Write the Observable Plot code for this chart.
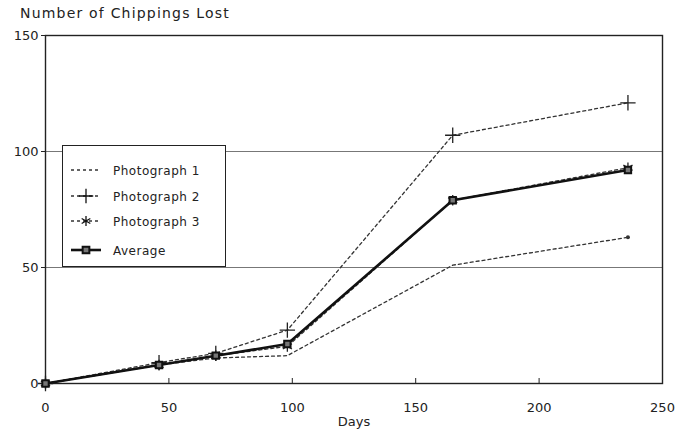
<!DOCTYPE html>
<html>
<head>
<meta charset="utf-8">
<script src="https://cdn.jsdelivr.net/npm/d3@7"></script>
<script src="https://cdn.jsdelivr.net/npm/@observablehq/plot@0.6"></script>
<style>
  body { margin: 0; background: #fff; }
  #wrap { position: relative; width: 684px; height: 439px; font-family: "DejaVu Sans", sans-serif; color: #222; }
  #title { position: absolute; left: 20px; top: 5px; font-size: 14px; letter-spacing: 1.2px; }
  #legend { position: absolute; left: 62px; top: 145px; width: 164px; height: 122px; border: 1.5px solid #222; background: #fff; box-sizing: border-box; }
  #legend svg { position: absolute; left: 0; top: 0; }
</style>
</head>
<body>
<div id="wrap">
  <div id="chart"></div>
  <div id="title">Number of Chippings Lost</div>
  <div id="legend"></div>
</div>
<script>
const days = [0, 46, 69, 98, 165, 236];
const photo1 = [0, 8, 11, 12, 51, 63];
const photo2 = [0, 9, 13, 23, 107, 121];
const photo3 = [0, 8, 12, 16, 79, 93];
const average = [0, 8, 12, 17, 79, 92];
const xTicks = [0, 50, 100, 150, 200, 250];
const yTicks = [0, 50, 100, 150];
const gridY = [50, 100];
const seriesNames = ["Photograph 1", "Photograph 2", "Photograph 3", "Average"];

const rows = (vals) => days.map((d, i) => ({ x: d, y: vals[i] }));
const p1 = rows(photo1), p2 = rows(photo2), p3 = rows(photo3), av = rows(average);

const ink = "#222";
const chart = Plot.plot({
  width: 684,
  height: 439,
  marginLeft: 45,
  marginRight: 22,
  marginTop: 35,
  marginBottom: 56,
  style: { fontFamily: "DejaVu Sans, sans-serif", fontSize: "13px", color: ink, background: "white" },
  x: { domain: [0, 250], ticks: xTicks, label: null },
  y: { domain: [0, 150], ticks: yTicks, label: null },
  marks: [
    Plot.ruleY(gridY, { stroke: "#777", strokeWidth: 1.2 }),
    Plot.frame({ stroke: ink, strokeWidth: 1.4 }),
    Plot.axisX({ ticks: xTicks, tickSize: -5, tickPadding: 24, stroke: ink, fill: ink }),
    Plot.axisY({ ticks: yTicks, tickSize: 4, tickPadding: 3, stroke: ink, fill: ink }),
    Plot.text(["Days"], { frameAnchor: "bottom", dy: 42, fill: ink, fontSize: 13 }),
    Plot.line(p1, { x: "x", y: "y", stroke: "#333", strokeWidth: 1.3, strokeDasharray: "3,3" }),
    Plot.line(p2, { x: "x", y: "y", stroke: "#333", strokeWidth: 1.3, strokeDasharray: "3,3" }),
    Plot.line(p3, { x: "x", y: "y", stroke: "#333", strokeWidth: 1.3, strokeDasharray: "3,3" }),
    Plot.dot(p1.slice(-1), { x: "x", y: "y", r: 2, fill: "#333" }),
    Plot.dot(p2, { x: "x", y: "y", symbol: "plus", r: 5, stroke: "#222", strokeWidth: 1.3 }),
    Plot.dot(p3, { x: "x", y: "y", symbol: "asterisk", r: 5, stroke: "#222", strokeWidth: 1.3 }),
    Plot.line(av, { x: "x", y: "y", stroke: "#111", strokeWidth: 2.6 }),
    Plot.dot(av, { x: "x", y: "y", symbol: "square", r: 3.6, stroke: "#111", strokeWidth: 2, fill: "#777" })
  ]
});
document.getElementById("chart").appendChild(chart);

// legend
const lg = d3.select("#legend").append("svg").attr("width", 164).attr("height", 122)
  .style("font-family", "DejaVu Sans, sans-serif");
const ys = [24, 50, 75, 104];
const sym = [null, d3.symbolPlus, d3.symbolAsterisk, d3.symbolSquare];
seriesNames.forEach((name, i) => {
  const g = lg.append("g").attr("transform", `translate(0,${ys[i]})`);
  const avg = i === 3;
  g.append("line").attr("x1", 8).attr("x2", 38).attr("y1", 0).attr("y2", 0)
    .attr("stroke", avg ? "#111" : "#333")
    .attr("stroke-width", avg ? 2.6 : 1.3)
    .attr("stroke-dasharray", avg ? null : "3,3");
  if (sym[i]) {
    g.append("path").attr("transform", "translate(23,0)")
      .attr("d", d3.symbol(sym[i], avg ? 45 : 70)())
      .attr("fill", avg ? "#777" : "none").attr("stroke", "#111").attr("stroke-width", avg ? 2 : 1.3);
  }
  g.append("text").attr("x", 50).attr("y", 4.5).attr("font-size", 12).attr("letter-spacing", 0.5)
    .attr("fill", "#222").text(name);
});
</script>
</body>
</html>
